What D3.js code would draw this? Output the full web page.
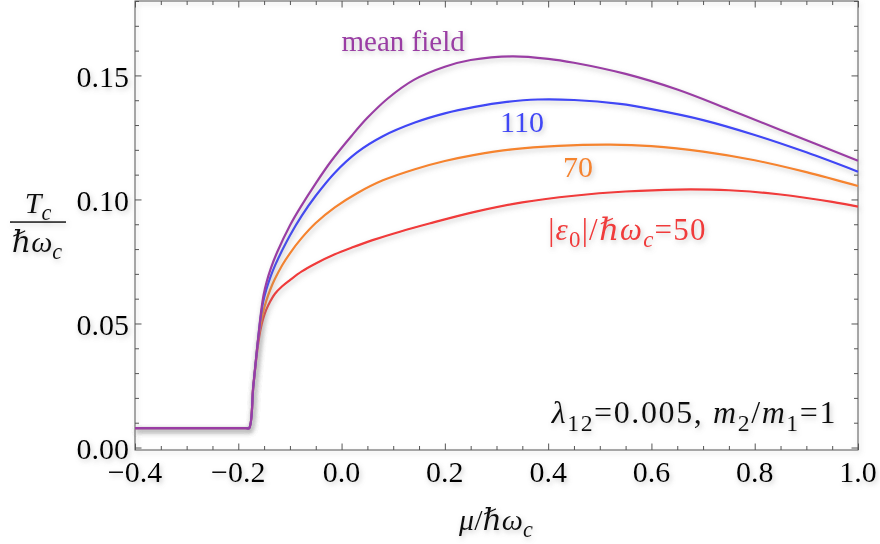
<!DOCTYPE html>
<html>
<head>
<meta charset="utf-8">
<script src="https://cdn.jsdelivr.net/npm/d3@7"></script>
<style>
  body { margin: 0; background: #fff; }
</style>
</head>
<body>
<div id="chart"></div>
<script>
// curves: mu/(hbar omega_c) and Tc/(hbar omega_c)
var muMean = [-0.4, -0.185, -0.179, -0.171, -0.165, -0.162, -0.156, -0.151, -0.145, -0.137, -0.125, -0.1, -0.08, -0.05, -0.02, 0.02, 0.05, 0.09, 0.14, 0.2, 0.25, 0.33, 0.4, 0.45, 0.55, 0.65, 0.75, 0.85, 1.0];
var tcMean = [0.0078, 0.0078, 0.0078, 0.0245, 0.0370, 0.0430, 0.0545, 0.0615, 0.0668, 0.0722, 0.0786, 0.0895, 0.0967, 0.1065, 0.1155, 0.1258, 0.1329, 0.1408, 0.1482, 0.1535, 0.1562, 0.1577, 0.1567, 0.1551, 0.1506, 0.1443, 0.1363, 0.1280, 0.1156];

var mu110 = [-0.4, -0.185, -0.179, -0.171, -0.165, -0.162, -0.157, -0.152, -0.146, -0.138, -0.129, -0.115, -0.1, -0.077, -0.05, -0.013, 0.03, 0.08, 0.142, 0.2, 0.258, 0.32, 0.38, 0.45, 0.539, 0.6, 0.7, 0.8, 0.9, 1.0];
var tc110 = [0.0078, 0.0078, 0.0078, 0.0245, 0.0370, 0.0430, 0.0520, 0.0585, 0.0635, 0.0686, 0.0733, 0.0795, 0.0855, 0.0935, 0.1015, 0.1108, 0.1190, 0.1255, 0.1310, 0.1347, 0.1373, 0.1393, 0.1403, 0.1401, 0.1385, 0.1364, 0.1320, 0.1260, 0.1190, 0.1112];

var mu70 = [-0.4, -0.185, -0.179, -0.171, -0.165, -0.162, -0.157, -0.152, -0.146, -0.138, -0.129, -0.115, -0.1, -0.077, -0.05, -0.013, 0.03, 0.08, 0.142, 0.2, 0.258, 0.33, 0.42, 0.52, 0.6, 0.7, 0.8, 0.9, 1.0];
var tc70 = [0.0078, 0.0078, 0.0078, 0.0245, 0.0370, 0.0430, 0.0495, 0.0545, 0.0590, 0.0637, 0.0680, 0.0735, 0.0783, 0.0845, 0.0905, 0.0968, 0.1025, 0.1077, 0.1122, 0.1155, 0.1180, 0.1202, 0.1216, 0.1221, 0.1215, 0.1193, 0.1158, 0.1110, 0.1054];

var mu50 = [-0.4, -0.185, -0.179, -0.171, -0.165, -0.161, -0.157, -0.152, -0.146, -0.138, -0.129, -0.115, -0.1, -0.077, -0.05, -0.013, 0.02, 0.06, 0.113, 0.17, 0.258, 0.35, 0.45, 0.55, 0.65, 0.75, 0.85, 0.95, 1.0];
var tc50 = [0.0078, 0.0078, 0.0078, 0.0245, 0.0360, 0.0425, 0.0475, 0.0518, 0.0555, 0.0590, 0.0620, 0.0650, 0.0675, 0.0710, 0.0742, 0.0779, 0.0806, 0.0836, 0.0870, 0.0903, 0.0950, 0.0988, 0.1015, 0.1032, 0.1040, 0.1037, 0.1020, 0.0990, 0.0971];

var xMajor = [-0.4, -0.2, 0.0, 0.2, 0.4, 0.6, 0.8, 1.0];
var yMajor = [0.00, 0.05, 0.10, 0.15];

var serif = "Liberation Serif, DejaVu Serif, Times New Roman, serif";

// set the dimensions and margins of the graph
var margin = { top: 1, right: 22, bottom: 94, left: 135 },
    width = 880 - margin.left - margin.right,
    height = 544 - margin.top - margin.bottom;

var svg = d3.select("#chart")
    .append("svg")
    .attr("width", 880)
    .attr("height", 544)
    .attr("font-family", serif);

// soft grey shadow like the original
var filter = svg.append("defs").append("filter")
    .attr("id", "shadow")
    .attr("filterUnits", "userSpaceOnUse")
    .attr("x", -300).attr("y", -300)
    .attr("width", 1500).attr("height", 1200);
filter.append("feDropShadow")
    .attr("dx", 1.5).attr("dy", 2.5)
    .attr("stdDeviation", 2.5)
    .attr("flood-color", "#888")
    .attr("flood-opacity", 0.45);

var g = svg.append("g")
    .attr("transform", "translate(" + margin.left + "," + margin.top + ")");

var x = d3.scaleLinear().domain([-0.4, 1.0]).range([0, width]);
var y = d3.scaleLinear().domain([-0.001, 0.18]).range([height, 0]);

// frame
g.append("rect")
    .attr("width", width).attr("height", height)
    .attr("fill", "none").attr("stroke", "#555").attr("stroke-width", 1)
    .attr("filter", "url(#shadow)");

var xMinor = d3.range(-0.4, 1.0001, 0.05).filter(function(v) { return Math.abs(v * 5 - Math.round(v * 5)) > 1e-6; });
var yMinor = d3.range(0, 0.1801, 0.01).filter(function(v) { return Math.abs(v * 20 - Math.round(v * 20)) > 1e-6; });

function ticks(axis, transform, values, size) {
    var a = g.append("g")
        .attr("transform", transform)
        .call(axis.tickValues(values).tickSize(size).tickFormat(""));
    a.select(".domain").remove();
    a.selectAll("line").attr("stroke", "#555");
    return a;
}
// ticks on all four sides, pointing inward
ticks(d3.axisBottom(x), "translate(0," + height + ")", xMajor, -6.5);
ticks(d3.axisBottom(x), "translate(0," + height + ")", xMinor, -4);
ticks(d3.axisTop(x), "translate(0,0)", xMajor, -6.5);
ticks(d3.axisTop(x), "translate(0,0)", xMinor, -4);
ticks(d3.axisLeft(y), "translate(0,0)", yMajor, -6.5);
ticks(d3.axisLeft(y), "translate(0,0)", yMinor, -4);
ticks(d3.axisRight(y), "translate(" + width + ",0)", yMajor, -6.5);
ticks(d3.axisRight(y), "translate(" + width + ",0)", yMinor, -4);

// tick labels
var fx = d3.format(".1f"), fy = d3.format(".2f");
g.append("g").selectAll("text")
    .data(xMajor).enter().append("text")
    .attr("x", function(d) { return x(d); })
    .attr("y", height + 32)
    .attr("text-anchor", "middle")
    .attr("font-family", serif)
    .attr("font-size", 30)
    .attr("filter", "url(#shadow)")
    .text(function(d) { return fx(d); });
g.append("g").selectAll("text")
    .data(yMajor).enter().append("text")
    .attr("x", -6)
    .attr("y", function(d) { return y(d); })
    .attr("dy", "0.37em")
    .attr("text-anchor", "end")
    .attr("font-family", serif)
    .attr("font-size", 30)
    .attr("filter", "url(#shadow)")
    .text(function(d) { return fy(d); });

// curves
var series = [
    { mu: mu50, tc: tc50, color: "#f03a3a" },
    { mu: mu70, tc: tc70, color: "#f5842f" },
    { mu: mu110, tc: tc110, color: "#4046f5" },
    { mu: muMean, tc: tcMean, color: "#9a3ea4" }
];
var line = d3.line()
    .x(function(d) { return x(d[0]); })
    .y(function(d) { return y(d[1]); })
    .curve(d3.curveCatmullRom.alpha(0.5));
series.forEach(function(s) {
    g.append("path")
        .datum(d3.zip(s.mu, s.tc))
        .attr("fill", "none")
        .attr("stroke", s.color)
        .attr("stroke-width", 2.2)
        .attr("stroke-linejoin", "round")
        .attr("filter", "url(#shadow)")
        .attr("d", line);
});

// text made of pieces: [string, style] with style "" | "i" | "s" | "si"
function richText(parent, px, py, parts, size, color, anchor, spacing) {
    var t = parent.append("text")
        .attr("x", px).attr("y", py)
        .attr("font-family", serif)
        .attr("font-size", size)
        .attr("fill", color)
        .attr("text-anchor", anchor || "start")
        .attr("filter", "url(#shadow)");
    if (spacing) t.attr("letter-spacing", spacing);
    var shift = 0;
    parts.forEach(function(p) {
        var ts = t.append("tspan").text(p[0]);
        var sub = p[1].indexOf("s") >= 0;
        if (p[1].indexOf("i") >= 0) ts.attr("font-style", "italic");
        var want = sub ? size * 0.24 : 0;
        if (sub) ts.attr("font-size", size * 0.74);
        if (want != shift) { ts.attr("dy", want - shift); shift = want; }
    });
    return t;
}

// curve labels
richText(g, x(0.0), y(0.160), [["mean field", ""]], 29, "#9a3ea4");
richText(g, x(0.307), y(0.1273), [["110", ""]], 30, "#4046f5");
richText(g, x(0.429), y(0.1092), [["70", ""]], 30, "#f5842f");
richText(g, x(0.40), y(0.0837), [["|", ""], ["ε", "i"], ["0", "s"], ["|/", ""], ["ℏω", "i"], ["c", "si"], ["=50", ""]], 31, "#f03a3a", "start", 1.2);
richText(g, x(0.9594), y(0.0099), [["λ", "i"], ["12", "s"], ["=0.005, ", ""], ["m", "i"], ["2", "s"], ["/", ""], ["m", "i"], ["1", "s"], ["=1", ""]], 32, "#111", "end", 1.6);

// axis titles
richText(svg, 496, 530, [["μ", "i"], ["/", ""], ["ℏω", "i"], ["c", "si"]], 30, "#111", "middle");
richText(svg, 38, 213, [["T", "i"], ["c", "si"]], 30, "#111", "middle");
svg.append("rect")
    .attr("x", 10).attr("width", 56).attr("y", 221.3).attr("height", 1.5)
    .attr("fill", "#111")
    .attr("filter", "url(#shadow)");
richText(svg, 37, 252, [["ℏω", "i"], ["c", "si"]], 30, "#111", "middle");
</script>
</body>
</html>
